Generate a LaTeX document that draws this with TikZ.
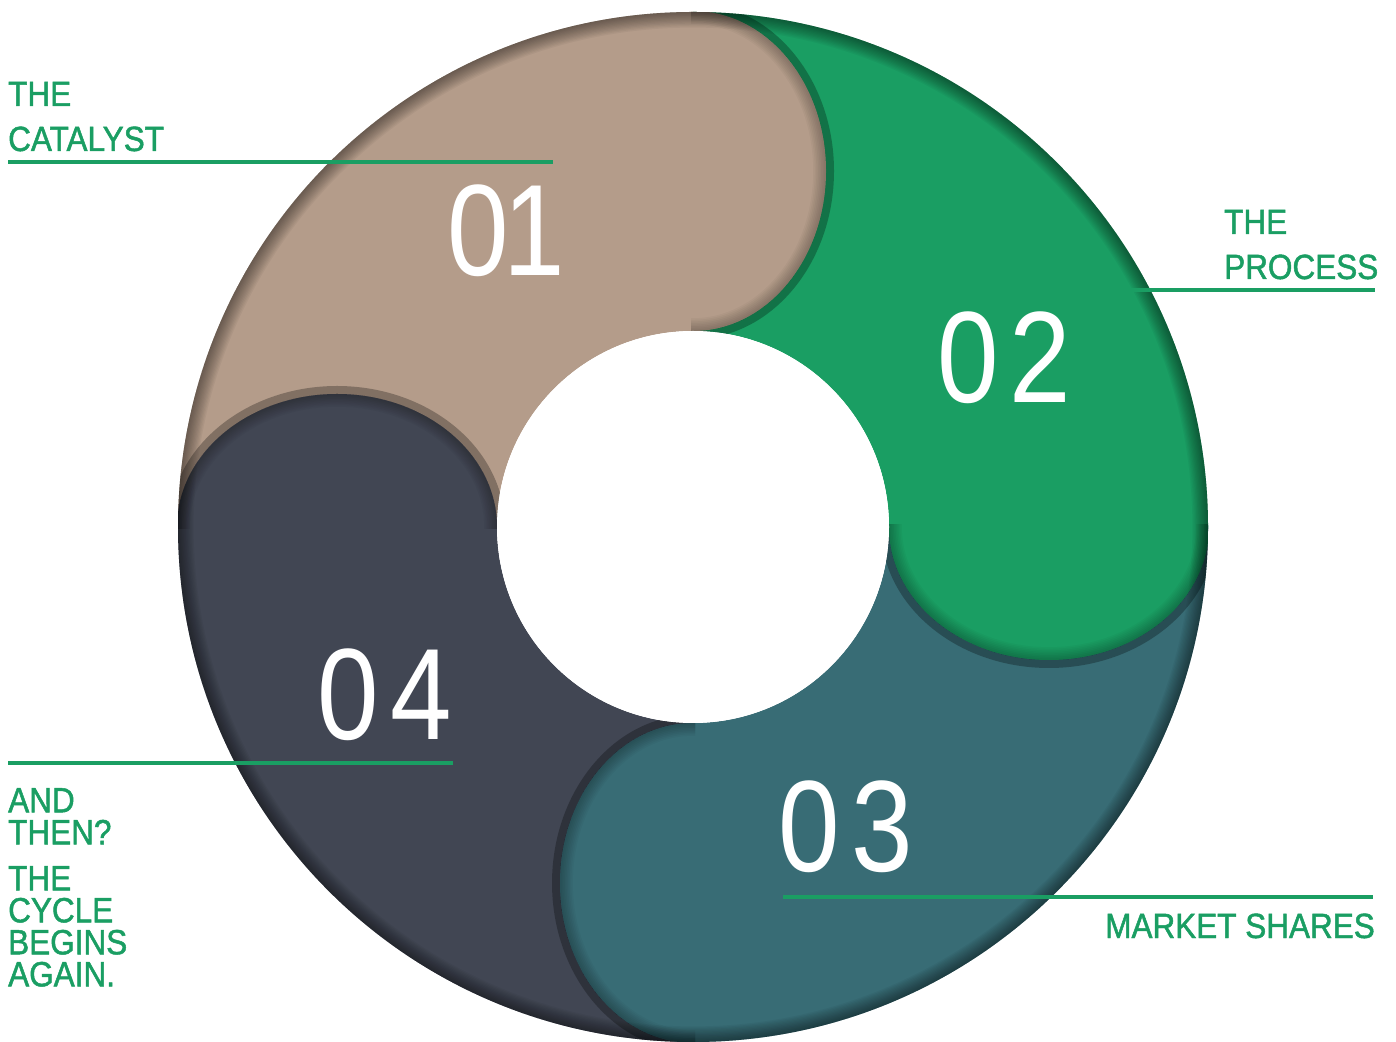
\documentclass[tikz,border=0pt]{standalone}
\usepackage{fontspec}
\newfontfamily\lblfont[FakeStretch=0.9, FakeBold=1.4]{Liberation Sans}
\newfontfamily\digfont[FakeStretch=0.85]{Liberation Sans}
\definecolor{tanc}{HTML}{B49C8A}
\definecolor{greenc}{HTML}{1A9E63}
\definecolor{tealc}{HTML}{386C75}
\definecolor{darkc}{HTML}{414653}
\definecolor{textgreen}{HTML}{1A9E63}
\tikzset{
  lbl/.style={font=\lblfont\fontsize{35}{32}\selectfont, text=textgreen, inner sep=0pt},
  num/.style={font=\digfont\fontsize{130}{130}\selectfont, text=white, inner sep=0pt, anchor=base west},
  leader/.style={draw=textgreen, line width=3.5pt},
  shadowfill/.style={fill=black, fill opacity=0.28},
}
\newcommand{\outerclip}{\clip (693,514) circle[radius=515];}
\newcommand{\bumprim}[3]{% center, xr, yr
  \foreach \i in {1,...,8}{
    \fill[black, fill opacity=0.03, even odd rule] #1 ellipse[x radius=#2, y radius=#3]
      #1 ellipse[x radius={#2-1.6*\i}, y radius={#3-1.6*\i}];
  }}
\begin{document}
\begin{tikzpicture}[x=1pt,y=1pt]
\useasboundingbox (0,0) rectangle (1396,1041);
\coordinate (C) at (693,514);
% quarter segments
\fill[tanc] (693,1029) arc[start angle=90, end angle=180, radius=515] -- (497,514) arc[start angle=180, end angle=90, radius=196] -- cycle;
\fill[greenc] (693,1029) arc[start angle=90, end angle=0, radius=515] -- (889,514) arc[start angle=0, end angle=90, radius=196] -- cycle;
\fill[tealc] (1208,514) arc[start angle=0, end angle=-90, radius=515] -- (693,318) arc[start angle=-90, end angle=0, radius=196] -- cycle;
\fill[darkc] (693,-1) arc[start angle=270, end angle=180, radius=515] -- (497,514) arc[start angle=180, end angle=270, radius=196] -- cycle;
% bump 01 into 02
\begin{scope}
  \outerclip \clip (693,0) rectangle (1396,1041);
  \fill[shadowfill] (693,870) ellipse[x radius=141, y radius=168];
\end{scope}
\begin{scope}
  \outerclip \clip (691,0) rectangle (1396,1041);
  \fill[tanc] (693,870) ellipse[x radius=133, y radius=160];
  \bumprim{(693,870)}{133}{160}
\end{scope}
% bump 02 into 03
\begin{scope}
  \outerclip \clip (0,0) rectangle (1396,514);
  \fill[shadowfill] (1049,514) ellipse[x radius=168, y radius=141];
\end{scope}
\begin{scope}
  \outerclip \clip (0,0) rectangle (1396,516);
  \fill[greenc] (1049,514) ellipse[x radius=160, y radius=133];
  \bumprim{(1049,514)}{160}{133}
\end{scope}
% bump 03 into 04
\begin{scope}
  \outerclip \clip (0,0) rectangle (693,1041);
  \fill[shadowfill] (693,158) ellipse[x radius=141, y radius=168];
\end{scope}
\begin{scope}
  \outerclip \clip (0,0) rectangle (695,1041);
  \fill[tealc] (693,158) ellipse[x radius=133, y radius=160];
  \bumprim{(693,158)}{133}{160}
\end{scope}
% bump 04 into 01
\begin{scope}
  \outerclip \clip (0,514) rectangle (1396,1041);
  \fill[shadowfill] (337,514) ellipse[x radius=168, y radius=141];
\end{scope}
\begin{scope}
  \outerclip \clip (0,512) rectangle (1396,1041);
  \fill[darkc] (337,514) ellipse[x radius=160, y radius=133];
  \bumprim{(337,514)}{160}{133}
\end{scope}
% outer rim darkening
\foreach \i in {1,...,12}{
  \fill[black, fill opacity=0.04, even odd rule] (C) circle[radius=515] (C) circle[radius={515-1.3*\i}];
}
% inner hole
\fill[white] (C) circle[radius=196];
% numbers
\node[num] (n1) at (447,765) {0\kern-5pt 1};
\node[num] (n2) at (937,638) {0\kern11pt 2};
\node[num] (n3) at (778.5,169) {0\kern11pt 3};
\node[num] (n4) at (317.5,301) {0\kern11pt 4};
% leader lines
\coordinate (l1a) at (8,879);   \coordinate (l1b) at (553,879);
\coordinate (l2a) at (943,751); \coordinate (l2b) at (1375,751);
\coordinate (l3a) at (783,144); \coordinate (l3b) at (1373,144);
\coordinate (l4a) at (8,278);   \coordinate (l4b) at (453,278);
\draw[leader] (l1a) -- (l1b);
\draw[leader] (l2a) -- (l2b);
\draw[leader] (l3a) -- (l3b);
\draw[leader] (l4a) -- (l4b);
% labels
\node[lbl, anchor=base west] (t1a) at (8,935) {THE};
\node[lbl, anchor=base west] (t1b) at (8,890) {CATALYST};
\node[lbl, anchor=base west] (t2a) at (1224,807) {THE};
\node[lbl, anchor=base west] (t2b) at (1224,762) {PROCESS};
\node[lbl, anchor=base east] (t3) at (1375,103) {MARKET SHARES};
\node[lbl, anchor=north west, align=left] (t4a) at (8,253) {AND\\THEN?};
\node[lbl, anchor=north west, align=left] (t4b) at (8,175) {THE\\CYCLE\\BEGINS\\AGAIN.};
\end{tikzpicture}
\end{document}
